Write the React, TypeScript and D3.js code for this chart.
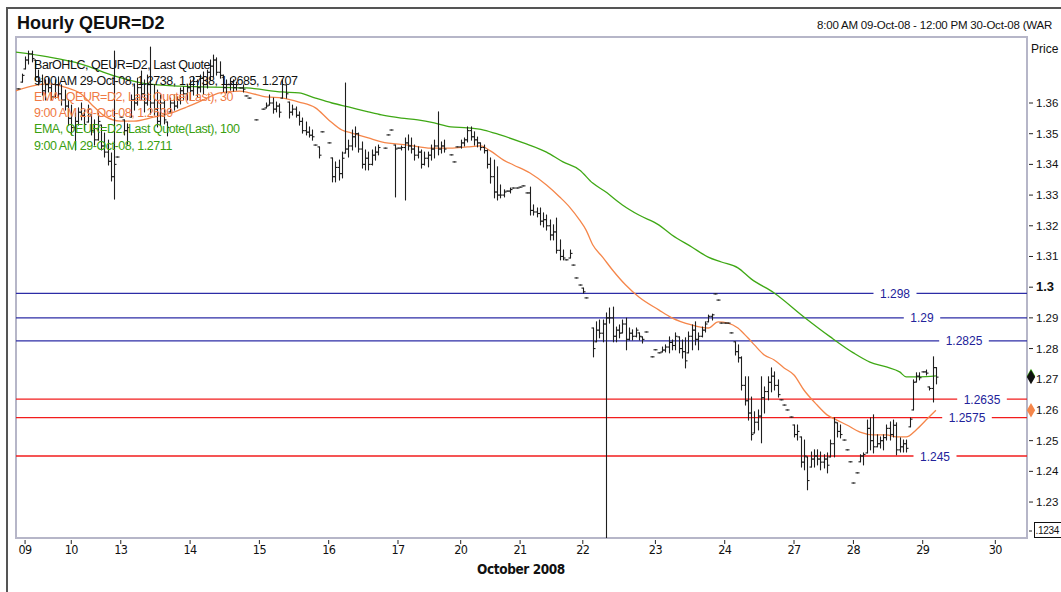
import * as d3 from "d3";

// Hourly OHLC. [high, low, close]; a single number is a flat bar (o=h=l=c); null = no trade
type Bar = [number, number, number] | number | null;

const preBars: Bar[] = [1.3646, [1.3694, 1.3668, 1.369]];

const d09: Bar[] = [
  [1.375, 1.3711, 1.374], [1.3769, 1.3727, 1.376], [1.3769, 1.3734, 1.3745], [1.374, 1.3675, 1.3685],
  [1.3707, 1.3659, 1.367], [1.3691, 1.3626, 1.364], [1.3675, 1.361, 1.366], [1.3681, 1.3636, 1.365],
  [1.3659, 1.361, 1.362], [1.3675, 1.3616, 1.366], [1.3685, 1.3616, 1.363], [1.3659, 1.3593, 1.361],
  [1.3642, 1.3577, 1.359], [1.361, 1.3528, 1.355],
];
const d10: Bar[] = [
  [1.3593, 1.3496, 1.352], [1.3567, 1.3447, 1.354], [1.3584, 1.3528, 1.357], [1.36, 1.3545, 1.356],
  [1.3577, 1.3512, 1.353], [1.3593, 1.3538, 1.358], [1.3561, 1.3496, 1.351], [1.3545, 1.3463, 1.348],
  [1.3567, 1.3479, 1.354], [1.3528, 1.3447, 1.346], [1.3502, 1.3424, 1.344], [1.3479, 1.3398, 1.341],
  [1.3437, 1.3346, 1.336], [1.3769, 1.3287, 1.34], 1.3424,
];
const d13: Bar[] = [
  1.3554, [1.3545, 1.3496, 1.351], [1.3532, 1.3466, 1.352], [1.3626, 1.3554, 1.361], [1.3662, 1.3577, 1.36],
  [1.3681, 1.3593, 1.365], [1.3704, 1.361, 1.363], [1.3675, 1.3571, 1.36], [1.3691, 1.3593, 1.366],
  [1.3782, 1.3564, 1.36], [1.3659, 1.3561, 1.358], [1.3642, 1.3522, 1.354], [1.3626, 1.3528, 1.36],
  [1.361, 1.3532, 1.3545], [1.3538, 1.3493, 1.352], [1.3616, 1.3571, 1.36], [1.3626, 1.3577, 1.359],
  [1.362, 1.3584, 1.361], [1.3649, 1.3597, 1.364], [1.3652, 1.361, 1.363], [1.3659, 1.361, 1.365],
];
const d14: Bar[] = [
  [1.3675, 1.361, 1.364], [1.3685, 1.3626, 1.367], [1.3675, 1.362, 1.365], [1.3691, 1.3636, 1.368],
  [1.3701, 1.3629, 1.366], [1.3707, 1.3649, 1.37], [1.374, 1.3675, 1.372], [1.3756, 1.3685, 1.374],
  [1.3747, 1.3691, 1.37], [1.3734, 1.3681, 1.369], [1.3691, 1.3636, 1.365], [1.3675, 1.3633, 1.366],
  [1.3681, 1.3642, 1.367], [1.3675, 1.3639, 1.365], [1.3668, 1.3642, 1.366], 1.3649,
  [1.3659, 1.3636, 1.3645], 1.3623, 1.3616, null, 1.3545,
];
const d15: Bar[] = [
  null, 1.358, [1.36, 1.3584, 1.359], [1.3626, 1.3593, 1.36], [1.3616, 1.3567, 1.358], [1.3603, 1.3571, 1.359],
  [1.3597, 1.3554, 1.357], [1.3675, 1.3616, 1.366], [1.3659, 1.3616, 1.363], [1.3603, 1.3551, 1.357],
  [1.3593, 1.3561, 1.358], [1.3587, 1.3554, 1.356], [1.3571, 1.3528, 1.354], [1.3551, 1.3502, 1.351],
  [1.3538, 1.3496, 1.3505], [1.3522, 1.3489, 1.3495], [1.3512, 1.3479, 1.349], 1.3463,
  [1.3457, 1.3421, 1.343], 1.3506, null,
];
const d16: Bar[] = [
  1.347, [1.3421, 1.3343, 1.336], [1.3408, 1.3343, 1.339], [1.3414, 1.3349, 1.337], [1.344, 1.3356, 1.342],
  [1.3665, 1.3437, 1.345], [1.3479, 1.3424, 1.346], [1.3512, 1.3447, 1.349], [1.3522, 1.3457, 1.35],
  [1.3502, 1.344, 1.345], [1.3473, 1.3388, 1.34], [1.3447, 1.3382, 1.342], [1.344, 1.3382, 1.34],
  [1.3447, 1.3398, 1.343], [1.3457, 1.3414, 1.344], [1.3463, 1.3431, 1.3455], null, 1.3453, 1.3496, 1.3512,
  [1.3463, 1.3294, 1.345],
];
const d17: Bar[] = [
  1.3453, [1.346, 1.3447, 1.3455], [1.3486, 1.3284, 1.347], [1.3496, 1.3447, 1.346], [1.3486, 1.3437, 1.345],
  [1.3463, 1.3414, 1.343], [1.3457, 1.3421, 1.344], [1.3447, 1.3388, 1.34], [1.344, 1.3398, 1.342],
  [1.344, 1.3392, 1.343], [1.3463, 1.3414, 1.345], [1.3479, 1.3421, 1.346], [1.3571, 1.3431, 1.345],
  [1.3473, 1.3437, 1.346], [1.3479, 1.344, 1.345], null, 1.3431, 1.3408, 1.3457,
];
const d20: Bar[] = [
  [1.3479, 1.3453, 1.347], [1.3486, 1.346, 1.348], [1.3522, 1.3473, 1.351], [1.3522, 1.3479, 1.349],
  [1.3506, 1.3463, 1.348], [1.3489, 1.3457, 1.347], [1.347, 1.3447, 1.3455], [1.3463, 1.3437, 1.3445],
  [1.3447, 1.3388, 1.34], [1.3421, 1.3339, 1.336], [1.3414, 1.3291, 1.331], [1.3392, 1.3284, 1.33],
  [1.3333, 1.3291, 1.33], [1.3317, 1.3294, 1.331], 1.3313, [1.3323, 1.3307, 1.3318], 1.3323, 1.3323,
];
const d21: Bar[] = [
  1.3326, 1.333, 1.3307, [1.3326, 1.3235, 1.325], [1.3268, 1.3235, 1.3245], [1.3258, 1.3229, 1.324],
  [1.3258, 1.3203, 1.3215], [1.3242, 1.3196, 1.322], [1.3235, 1.3186, 1.32], [1.3219, 1.3154, 1.317],
  [1.3203, 1.3154, 1.318], [1.3225, 1.3111, 1.312], [1.3154, 1.3089, 1.31], [1.3121, 1.3089, 1.3095],
  1.3089, [1.3121, 1.3095, 1.311], 1.3072, 1.303, 1.3007,
];
const d22: Bar[] = [
  [1.2997, 1.2981, 1.2985], 1.2965, null, [1.2867, 1.2773, 1.28], [1.2887, 1.2822, 1.286],
  [1.2893, 1.2835, 1.285], [1.2893, 1.2822, 1.288], [1.2916, 1.215, 1.29], [1.2932, 1.2883, 1.29],
  [1.2935, 1.2822, 1.284], [1.287, 1.2822, 1.286], [1.2877, 1.2835, 1.285], [1.2893, 1.2851, 1.288],
  [1.2899, 1.2796, 1.283], [1.2867, 1.2828, 1.285], [1.2861, 1.2828, 1.284], [1.2867, 1.2838, 1.286],
  [1.2851, 1.2828, 1.284], [1.2838, 1.2818, 1.283], 1.2854, null, 1.2773,
];
const d23: Bar[] = [
  1.2796, 1.2786, [1.2805, 1.2789, 1.2795], [1.2812, 1.2789, 1.2805], [1.2838, 1.2786, 1.282],
  [1.2828, 1.2796, 1.281], [1.2851, 1.2796, 1.284], [1.2838, 1.2786, 1.28], [1.2828, 1.2769, 1.279],
  [1.2835, 1.2737, 1.276], [1.2854, 1.2786, 1.284], [1.2877, 1.2796, 1.286], [1.2887, 1.2812, 1.283],
  [1.2851, 1.2796, 1.284], [1.287, 1.2838, 1.286], [1.2887, 1.2854, 1.288], [1.2909, 1.2887, 1.2905],
  [1.2912, 1.2893, 1.291], 1.2978, 1.2958, 1.2883,
];
const d24: Bar[] = [
  1.2883, 1.2883, 1.2851, [1.2822, 1.2779, 1.279], [1.2812, 1.2756, 1.277], [1.2773, 1.2665, 1.268],
  [1.2708, 1.2616, 1.263], [1.2708, 1.2567, 1.259], [1.2642, 1.2502, 1.252], [1.2594, 1.2525, 1.256],
  [1.26, 1.2535, 1.258], [1.2708, 1.2493, 1.264], [1.2675, 1.259, 1.266], [1.2708, 1.2633, 1.269],
  [1.2737, 1.2659, 1.271], [1.2724, 1.2665, 1.268], [1.2698, 1.2642, 1.265], 1.2633, 1.2616, 1.26, 1.2577,
];
const d27: Bar[] = [
  [1.2551, 1.2512, 1.252], [1.2551, 1.2502, 1.253], [1.2512, 1.2414, 1.243], [1.2502, 1.2405, 1.245],
  [1.2447, 1.234, 1.237], [1.2463, 1.2414, 1.244], [1.247, 1.2414, 1.245], [1.247, 1.2421, 1.244],
  [1.2463, 1.2405, 1.243], [1.2454, 1.2411, 1.244], [1.246, 1.2395, 1.242], [1.2502, 1.2447, 1.249],
  [1.2574, 1.2447, 1.256], [1.2558, 1.2512, 1.253], [1.2551, 1.2509, 1.252], 1.2502, 1.247, 1.2431,
];
const d28: Bar[] = [
  1.2362, 1.2395, [1.2454, 1.2431, 1.245], [1.246, 1.2421, 1.2455], [1.2567, 1.246, 1.254],
  [1.2574, 1.247, 1.25], [1.2584, 1.246, 1.248], [1.2519, 1.248, 1.249], [1.2512, 1.2476, 1.25],
  [1.2519, 1.247, 1.251], [1.2551, 1.2502, 1.254], [1.2561, 1.2502, 1.252], [1.2567, 1.2512, 1.255],
  [1.2558, 1.2454, 1.247], [1.2509, 1.2463, 1.248], [1.2502, 1.2463, 1.249], [1.2502, 1.2463, 1.2475],
  [1.2574, 1.2545, 1.257], [1.2698, 1.26, 1.269], [1.2721, 1.2691, 1.271], [1.2721, 1.2698, 1.2705],
];
const d29: Bar[] = [
  1.2724, [1.273, 1.2714, 1.272], [1.2675, 1.2665, 1.267], [1.2773, 1.2626, 1.2738], [1.2738, 1.2685, 1.2707],
];

const dayLabels = ["09", "10", "13", "14", "15", "16", "17", "20", "21", "22", "23", "24", "27", "28", "29", "30"];
// hourly sessions per day on the axis
const daySlots = [14, 15, 21, 21, 21, 21, 19, 18, 19, 22, 21, 21, 18, 21, 22];
const dayBars = [d09, d10, d13, d14, d15, d16, d17, d20, d21, d22, d23, d24, d27, d28, d29];

// EMA readings: [bar slot, value]
const ema30: [number, number][] = [
  [-3, 1.3639], [2, 1.3655], [7, 1.3662], [12, 1.3652], [17, 1.3629], [20, 1.3597], [24, 1.3558], [29, 1.3541],
  [33, 1.3541], [39, 1.3554], [44, 1.3567], [49, 1.3587], [54, 1.361], [59, 1.3633], [65, 1.3639], [68, 1.3633],
  [73, 1.362], [78, 1.3616], [83, 1.3603], [88, 1.3584], [92, 1.3545], [96, 1.3512], [99, 1.3502], [104, 1.3486],
  [108, 1.3473], [116, 1.3463], [123, 1.3453], [129, 1.3453], [134, 1.3457], [138, 1.346], [141, 1.3444],
  [145, 1.3414], [148, 1.3398], [153, 1.3372], [158, 1.3333], [162, 1.3294], [165, 1.3261], [168, 1.3219],
  [170, 1.3186], [172, 1.3138], [175, 1.3098], [178, 1.3056], [182, 1.3007], [186, 1.2968], [192, 1.2926],
  [196, 1.29], [202, 1.2877], [207, 1.2867], [210, 1.2887], [213, 1.2883], [216, 1.2867], [219, 1.2835],
  [221, 1.2812], [224, 1.2779], [227, 1.2763], [230, 1.2737], [233, 1.2714], [236, 1.2665], [240, 1.2616],
  [243, 1.2584], [246, 1.2567], [249, 1.2551], [253, 1.2528], [257, 1.2519], [261, 1.2519], [264, 1.2512],
  [267, 1.2512], [270, 1.2535], [273, 1.2567], [276, 1.2599],
];
const ema100: [number, number][] = [
  [-3, 1.3766], [7, 1.375], [17, 1.3727], [27, 1.3688], [37, 1.3662], [47, 1.3655], [57, 1.3652], [67, 1.3649],
  [78, 1.3636], [83, 1.3633], [88, 1.3616], [93, 1.36], [98, 1.3587], [104, 1.3571], [108, 1.3561], [114, 1.3551],
  [119, 1.3545], [124, 1.3535], [129, 1.3522], [134, 1.3519], [139, 1.3512], [144, 1.3496], [151, 1.347],
  [158, 1.344], [163, 1.3408], [168, 1.3382], [172, 1.3339], [176, 1.331], [181, 1.3268], [186, 1.3235],
  [192, 1.3203], [196, 1.317], [202, 1.3131], [207, 1.3098], [211, 1.3082], [216, 1.3063], [220, 1.3027],
  [227, 1.2981], [236, 1.2903], [244, 1.2838], [251, 1.2786], [256, 1.2756], [261, 1.274], [265, 1.2724],
  [267, 1.2708], [271, 1.2708], [276, 1.2711],
];

const levels = [1.298, 1.29, 1.2825, 1.2635, 1.2575, 1.245];
const levelKind = ["res", "res", "res", "sup", "sup", "sup"];
const priceTicks = [1.23, 1.24, 1.25, 1.26, 1.27, 1.28, 1.29, 1.3, 1.31, 1.32, 1.33, 1.34, 1.35, 1.36];
const legendLines = [
  "BarOHLC, QEUR=D2, Last Quote",
  "9:00 AM 29-Oct-08, 1.2738, 1.2738, 1.2685, 1.2707",
  "EMA, QEUR=D2, Last Quote(Last),  30",
  "9:00 AM 29-Oct-08, 1.2599",
  "EMA, QEUR=D2, Last Quote(Last),  100",
  "9:00 AM 29-Oct-08, 1.2711",
];
const lastClose = 1.2707;
const lastEma30 = 1.2599;
const lastEma100 = 1.2711;

// layout
const W = 1061;
const H = 592;
const PL = 16, PR = 1027, PT = 37, PB = 538;
const LEVEL_LABEL_X = [895, 922, 964, 982, 967, 935];
const LEGEND_COLORS = ["#111", "#111", "#f07a45", "#f07a45", "#3aa010", "#3aa010"];
const ORANGE = "#f5864a";
const GREEN = "#3fa815";
const FONT = "'Liberation Sans', Arial, sans-serif";
const NARROW = "'Liberation Sans Narrow', 'DejaVu Sans Condensed', 'Liberation Sans', sans-serif";

type OHLC = { i: number; o: number; h: number; l: number; c: number };

function buildBars(): OHLC[] {
  const out: OHLC[] = [];
  let prev: number | null = null;
  const push = (b: Bar, i: number) => {
    if (b === null) return;
    let h: number, l: number, c: number;
    if (typeof b === "number") { h = l = c = b; } else { [h, l, c] = b; }
    const o = prev === null ? c : Math.min(h, Math.max(l, prev));
    out.push({ i, o, h, l, c });
    prev = c;
  };
  preBars.forEach((b, k) => push(b, k - preBars.length));
  let start = 0;
  dayBars.forEach((bars, d) => {
    bars.forEach((b, k) => push(b, start + k));
    start += daySlots[d];
  });
  return out;
}

export default function App() {
  const bars = buildBars();
  const tickSlots = [0, ...d3.cumsum(daySlots)];

  const x = d3.scaleLinear().domain([-2.75, 303.6]).range([PL, PR]);
  const y = d3.scaleLinear().domain([1.36, 1.245]).range([103, 456]);

  const line = d3.line<[number, number]>()
    .x((d) => x(d[0]))
    .y((d) => y(d[1]))
    .curve(d3.curveMonotoneX);

  const diamond = d3.symbol(d3.symbolDiamond, 60)() || "";

  return (
    <div style={{ position: "absolute", left: 0, top: 0 }}>
      <svg width={W} height={H} style={{ display: "block", fontFamily: FONT }}>
        <defs>
          <clipPath id="plot">
            <rect x={PL} y={PT} width={PR - PL} height={PB - PT} />
          </clipPath>
        </defs>
        <rect width={W} height={H} fill="#fff" />
        <path d={`M7,${H} V8 H${W}`} fill="none" stroke="#555" strokeWidth={2} />

        <text x={17} y={29} fontSize={18} fontWeight="bold" fill="#111">Hourly QEUR=D2</text>
        <text x={817} y={29} fontSize={11.5} letterSpacing={-0.2} fill="#111">8:00 AM 09-Oct-08 - 12:00 PM 30-Oct-08 (WAR</text>
        <text x={1031} y={53} fontSize={12} fill="#111">Price</text>

        <rect x={PL} y={PT} width={PR - PL} height={PB - PT} fill="#fff" stroke="#b6b6c8" strokeWidth={2} />

        <g clipPath="url(#plot)">
          {levels.map((v, k) => (
            <line key={k} x1={PL} x2={PR} y1={y(v)} y2={y(v)}
              stroke={levelKind[k] === "res" ? "#2c2ca6" : "#f21c1c"} strokeWidth={1.3} />
          ))}
          {levels.map((v, k) => {
            const label = String(v);
            const w = label.length * 6.6 + 10;
            return (
              <g key={"l" + k}>
                <rect x={LEVEL_LABEL_X[k] - w / 2} y={y(v) - 7} width={w} height={14} fill="#fff" />
                <text x={LEVEL_LABEL_X[k]} y={y(v) + 4.5} fontSize={12} textAnchor="middle" fill="#22229a">{label}</text>
              </g>
            );
          })}

          <path d={line(ema100) || ""} fill="none" stroke={GREEN} strokeWidth={1.3} />
          <path d={line(ema30) || ""} fill="none" stroke={ORANGE} strokeWidth={1.3} />

          <g stroke="#1e1e1e" strokeWidth={1.1}>
            {bars.map((b) => {
              const bx = Math.round(x(b.i)) + 0.5;
              return (
                <g key={b.i}>
                  <line x1={bx} x2={bx} y1={y(b.h) - 0.5} y2={y(b.l) + 0.5} />
                  <line x1={bx - 2} x2={bx} y1={y(b.o)} y2={y(b.o)} />
                  <line x1={bx} x2={bx + 2} y1={y(b.c)} y2={y(b.c)} />
                </g>
              );
            })}
          </g>

          {legendLines.map((t, k) => (
            <text key={"t" + k} x={34} y={69 + k * 16.1} fontSize={12.5} letterSpacing={-0.45} fill={LEGEND_COLORS[k]}>{t}</text>
          ))}
        </g>

        {/* right price axis */}
        {priceTicks.map((v) => {
          const bold = Math.abs(v - 1.3) < 1e-9;
          return (
            <g key={v}>
              <line x1={PR + 2} x2={PR + 6} y1={y(v)} y2={y(v)} stroke="#222" strokeWidth={1} />
              <text x={PR + 9} y={y(v) + 4} fontSize={bold ? 13 : 11.5} fontWeight={bold ? "bold" : "normal"} fill="#111">
                {String(+v.toFixed(2))}
              </text>
            </g>
          );
        })}
        <line x1={PR + 2} x2={PR + 5} y1={531} y2={531} stroke="#222" />
        <rect x={PR + 7.5} y={522.5} width={40} height={15} fill="#fff" stroke="#111" strokeWidth={1} />
        <text x={PR + 8.5} y={534} fontSize={10} letterSpacing={-0.3} fill="#111">.1234</text>

        <path d={diamond} transform={`translate(${PR + 4},${y(lastEma100)})`} fill={GREEN} />
        <path d={diamond} transform={`translate(${PR + 4},${y(lastClose)})`} fill="#111" />
        <path d={diamond} transform={`translate(${PR + 4},${y(lastEma30)})`} fill={ORANGE} />

        {/* time axis */}
        {dayLabels.map((lab, k) => {
          const tx = x(tickSlots[k]);
          return (
            <g key={lab}>
              <line x1={tx} x2={tx} y1={PB + 2} y2={PB + 6} stroke="#222" />
              <text x={tx} y={554} fontSize={12.5} letterSpacing={-0.6} textAnchor="middle" fill="#111" style={{ fontFamily: NARROW }}>{lab}</text>
            </g>
          );
        })}
        <text x={521} y={574} fontSize={13.5} fontWeight="bold" letterSpacing={-0.4} textAnchor="middle" fill="#111" style={{ fontFamily: NARROW }}>
          October 2008
        </text>
      </svg>
    </div>
  );
}
